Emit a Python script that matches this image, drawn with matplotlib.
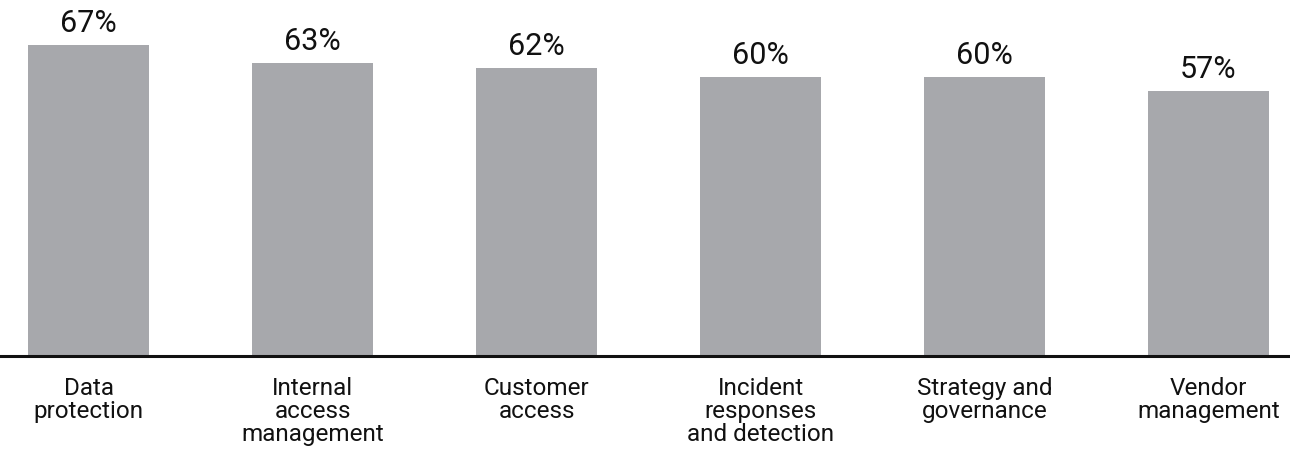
import matplotlib
matplotlib.use("Agg")
import matplotlib.pyplot as plt

categories = [
    "Data\nprotection",
    "Internal\naccess\nmanagement",
    "Customer\naccess",
    "Incident\nresponses\nand detection",
    "Strategy and\ngovernance",
    "Vendor\nmanagement",
]
values = [67, 63, 62, 60, 60, 57]

BAR_COLOR = "#A7A8AC"
TEXT_COLOR = "#111111"
plt.rcParams["font.family"] = ["Roboto", "DejaVu Sans"]

W, H, DPI = 1290, 456, 100
fig = plt.figure(figsize=(W / DPI, H / DPI), dpi=DPI)
base_px = 356.5
ax = fig.add_axes([0, (H - base_px) / H, 1, base_px / H])

x = list(range(len(values)))
ax.bar(x, values, width=0.54, color=BAR_COLOR, zorder=2)

px_per_unit = 224.0
ax.set_xlim(-88.5 / px_per_unit, (W - 88.5) / px_per_unit)
ax.set_ylim(0, base_px / 4.64)

for xi, v in zip(x, values):
    ax.annotate(f"{v}%", (xi, v), xytext=(0, 10), textcoords="offset points",
                ha="center", va="baseline", fontsize=22, color=TEXT_COLOR)
    ax.annotate(categories[xi], (xi, 0), xytext=(0, -15), textcoords="offset points",
                ha="center", va="top", fontsize=17.5, color=TEXT_COLOR,
                linespacing=1.0, multialignment="center")

for side in ("top", "right", "left"):
    ax.spines[side].set_visible(False)
ax.spines["bottom"].set_linewidth(2.2)
ax.spines["bottom"].set_color("#111111")
ax.spines["bottom"].set_zorder(3)
ax.set_xticks([])
ax.set_yticks([])
ax.patch.set_alpha(0)

fig.savefig("out.png", dpi=DPI)
